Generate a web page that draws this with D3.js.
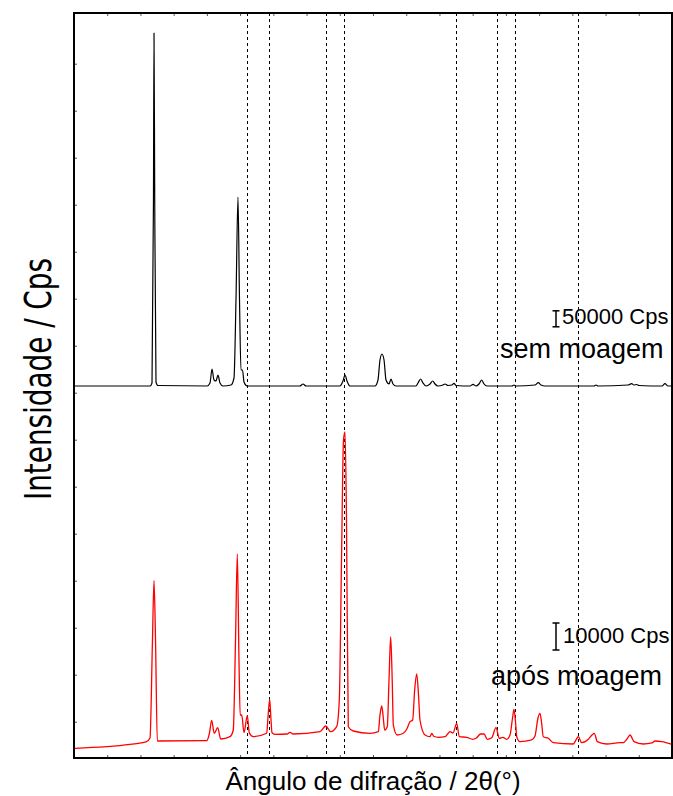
<!DOCTYPE html>
<html>
<head>
<meta charset="utf-8">
<script src="https://cdn.jsdelivr.net/npm/d3@7"></script>
<style>
  body { margin: 0; background: #fff; }
  text { font-family: "Liberation Sans", Arial, sans-serif; fill: #000; }
</style>
</head>
<body>
<svg id="chart" width="673" height="796"></svg>
<script>
// 2theta (deg) / intensity (Cps)
var semTheta = [5.15, 16.44, 16.74, 16.96, 17.04, 17.15, 17.34, 17.64, 25.02, 25.47, 25.77, 26.07, 26.37, 26.67, 26.97, 27.42,
  28.63, 29.08, 29.38, 29.68, 29.91, 30.13, 30.36, 30.59, 31.04, 39.01, 39.46, 39.92, 45.03, 45.48, 45.79, 46.09, 46.54,
  50.30, 50.75, 51.05, 51.35, 51.66, 51.96, 52.41, 52.71, 53.01, 53.46, 56.47, 56.77, 57.18, 57.52, 57.98, 58.58, 58.98,
  59.33, 59.78, 60.53, 60.84, 61.29, 61.89, 62.19, 62.49, 64.60, 65.05, 65.50, 65.95, 66.36, 66.71, 67.16, 70.92, 71.22,
  71.52, 74.38, 74.88, 75.28, 75.89, 83.26, 83.56, 83.86, 88.38, 88.93, 89.28, 89.68, 90.03, 93.49, 93.94, 94.40, 95.0];
var semCps = [0, 0, 9400, 581000, 1103000, 581000, 12500, 1500, 0, 9400, 53100, 18750, 15600, 34400, 9400, 0,
  3100, 25000, 268750, 590600, 268750, 50000, 50000, 12500, 0, 0, 6250, 0, 0, 15600, 34400, 15600, 0,
  0, 18750, 81250, 100000, 81250, 18750, 6250, 21900, 6250, 0, 0, 9400, 21900, 9400, 0, 6250, 15600,
  6250, 0, 3100, 6250, 1600, 3100, 8400, 1600, 0, 5300, 0, 6250, 18750, 6250, 0, 0, 3100,
  0, 3100, 10300, 3100, 0, 0, 3100, 0, 3100, 7200, 3100, 4700, 1600, 0, 7200, 0, 0];

var aposTheta = [5.15, 13.43, 15.84, 16.44, 16.81, 17.04, 17.27, 17.54, 24.97, 25.39, 25.72, 26.11, 26.63, 27.08, 28.48, 28.97,
  29.31, 29.58, 29.83, 30.01, 30.24, 30.59, 31.08, 31.38, 31.98, 34.00, 34.22, 34.45, 34.65, 34.80, 35.25, 37.06, 37.51,
  38.00, 42.02, 42.88, 43.63, 44.53, 44.93, 45.26, 45.56, 45.79, 46.01, 46.28, 47.04, 49.55, 50.80, 51.05, 51.31, 51.55,
  51.76, 52.15, 52.41, 52.66, 52.89, 53.06, 53.66, 54.56, 55.07, 55.57, 55.97, 56.27, 56.58, 56.85, 57.07, 57.83, 58.58,
  58.84, 59.18, 59.83, 60.84, 61.29, 61.59, 62.04, 62.60, 62.99, 64.10, 65.00, 65.50, 66.21, 66.71, 67.21, 67.87, 68.51,
  69.01, 69.52, 70.12, 70.62, 71.00, 71.22, 71.45, 71.63, 72.12, 73.88, 74.38, 74.83, 75.13, 75.36, 75.63, 76.39, 77.14,
  80.15, 80.55, 80.90, 81.41, 82.41, 82.96, 83.31, 83.76, 85.17, 87.17, 87.67, 88.23, 88.68, 89.28, 90.68, 91.99, 92.44,
  93.45, 95.0];
var aposCps = [3600, 5070, 5930, 7400, 43700, 65700, 43700, 6300, 6400, 9260, 13960, 9150, 11220, 7040, 7890, 10370,
  43700, 75560, 36300, 15930, 15930, 9370, 15670, 9370, 7890, 9150, 15930, 21740, 14080, 9370, 8780, 8890, 9520,
  8890, 9740, 11850, 9740, 11590, 21480, 73340, 117800, 120750, 88150, 11590, 10000, 9150, 9740, 15930, 19260, 14820,
  10370, 11590, 28890, 44930, 28890, 12220, 8520, 9150, 10630, 13450, 14080, 25190, 31110, 23340, 14080, 8520, 7890,
  9150, 7960, 7670, 7890, 9070, 9740, 9260, 12850, 7890, 7670, 6930, 7300, 8890, 8890, 6930, 7520, 11220,
  7300, 7670, 6930, 8520, 14820, 18040, 13330, 7890, 6040, 6670, 8150, 14820, 16560, 13330, 7890, 7300, 5670,
  5190, 6670, 7890, 5670, 6930, 8520, 9150, 6040, 5190, 5670, 5670, 7040, 8520, 6040, 5190, 5560, 6300,
  6040, 5070];

var refLines = [31.04, 34.35, 42.93, 45.64, 62.49, 68.66, 71.37, 80.85];
var xTicks = d3.range(10, 95, 5);
var yTicks = d3.range(0, 15);
var semBar = [185000, 235000];   // 50000 Cps
var aposBar = [40000, 50000];    // 10000 Cps

var svg = d3.select('#chart');
var plotL = 74, plotR = 672, plotT = 13, plotB = 758;

var x = d3.scaleLinear().domain([5, 95]).range([plotL, plotR]);
var ySem = d3.scaleLinear().domain([0, 50000]).range([386, 370]);
var yApos = d3.scaleLinear().domain([0, 10000]).range([758, 731]);
var yFrame = d3.scaleLinear().domain([0, 14]).range([721.7, 63.7]);

svg.append('clipPath').attr('id', 'plot')
    .append('rect').attr('x', plotL).attr('y', plotT).attr('width', plotR - plotL).attr('height', plotB - plotT);

// dashed reference lines
svg.append('g').selectAll('line').data(refLines).enter().append('line')
    .attr('x1', function(d) { return Math.round(x(d)) + 0.5; })
    .attr('x2', function(d) { return Math.round(x(d)) + 0.5; })
    .attr('y1', plotT).attr('y2', plotB)
    .attr('stroke', '#000').attr('stroke-width', 1).attr('stroke-dasharray', '3,3');

var draw_line = function(thetas, cps, yScale, color, width) {
    var pts = thetas.map(function(t, i) { return [t, cps[i]]; });
    var line_func = d3.line()
        .curve(d3.curveMonotoneX)
        .x(function(d) { return x(d[0]); })
        .y(function(d) { return yScale(d[1]); });
    svg.append('path')
        .attr('d', line_func(pts))
        .attr('clip-path', 'url(#plot)')
        .attr('stroke', color)
        .attr('stroke-width', width)
        .attr('stroke-linejoin', 'round')
        .attr('fill', 'none');
};
draw_line(semTheta, semCps, ySem, '#000', 1.2);
draw_line(aposTheta, aposCps, yApos, '#ff0000', 1.3);

// inner ticks, no labels
svg.append('g').attr('transform', 'translate(0,' + plotT + ')')
    .call(d3.axisBottom(x).tickValues(xTicks).tickSize(3).tickFormat(''))
    .call(function(g) { g.select('.domain').remove(); g.selectAll('line').attr('stroke', '#555'); });
svg.append('g').attr('transform', 'translate(0,' + plotB + ')')
    .call(d3.axisTop(x).tickValues(xTicks).tickSize(3).tickFormat(''))
    .call(function(g) { g.select('.domain').remove(); g.selectAll('line').attr('stroke', '#555'); });
svg.append('g').attr('transform', 'translate(' + plotL + ',0)')
    .call(d3.axisRight(yFrame).tickValues(yTicks).tickSize(3).tickFormat(''))
    .call(function(g) { g.select('.domain').remove(); g.selectAll('line').attr('stroke', '#555'); });

svg.append('rect')
    .attr('x', plotL).attr('y', plotT).attr('width', plotR - plotL).attr('height', plotB - plotT)
    .attr('fill', 'none').attr('stroke', '#000').attr('stroke-width', 2);

// scale bars
var draw_bar = function(bx, vals, yScale) {
    var g = svg.append('g').attr('stroke', '#000').attr('stroke-width', 1.5);
    var y0 = yScale(vals[0]), y1 = yScale(vals[1]);
    g.append('line').attr('x1', bx).attr('x2', bx).attr('y1', y0).attr('y2', y1);
    g.append('line').attr('x1', bx - 3.5).attr('x2', bx + 3.5).attr('y1', y0).attr('y2', y0);
    g.append('line').attr('x1', bx - 3.5).attr('x2', bx + 3.5).attr('y1', y1).attr('y2', y1);
};
draw_bar(556, semBar, ySem);
draw_bar(556, aposBar, yApos);

svg.append('text').attr('x', 562).attr('y', 323.5).attr('font-size', 22).text('50000 Cps');
svg.append('text').attr('x', 500).attr('y', 358).attr('font-size', 27).text('sem moagem');
svg.append('text').attr('x', 563).attr('y', 643).attr('font-size', 22).text('10000 Cps');
svg.append('text').attr('x', 491).attr('y', 685).attr('font-size', 27).text('após moagem');

svg.append('text')
    .attr('x', 373).attr('y', 790).attr('text-anchor', 'middle').attr('font-size', 26)
    .text('Ângulo de difração / 2θ(°)');

svg.append('text')
    .attr('transform', 'translate(51,379) rotate(-90)')
    .attr('text-anchor', 'middle')
    .attr('font-size', 38)
    .style('font-family', '"Liberation Sans Narrow", "DejaVu Sans Condensed", sans-serif')
    .attr('textLength', 242).attr('lengthAdjust', 'spacingAndGlyphs')
    .text('Intensidade / Cps');
</script>
</body>
</html>
